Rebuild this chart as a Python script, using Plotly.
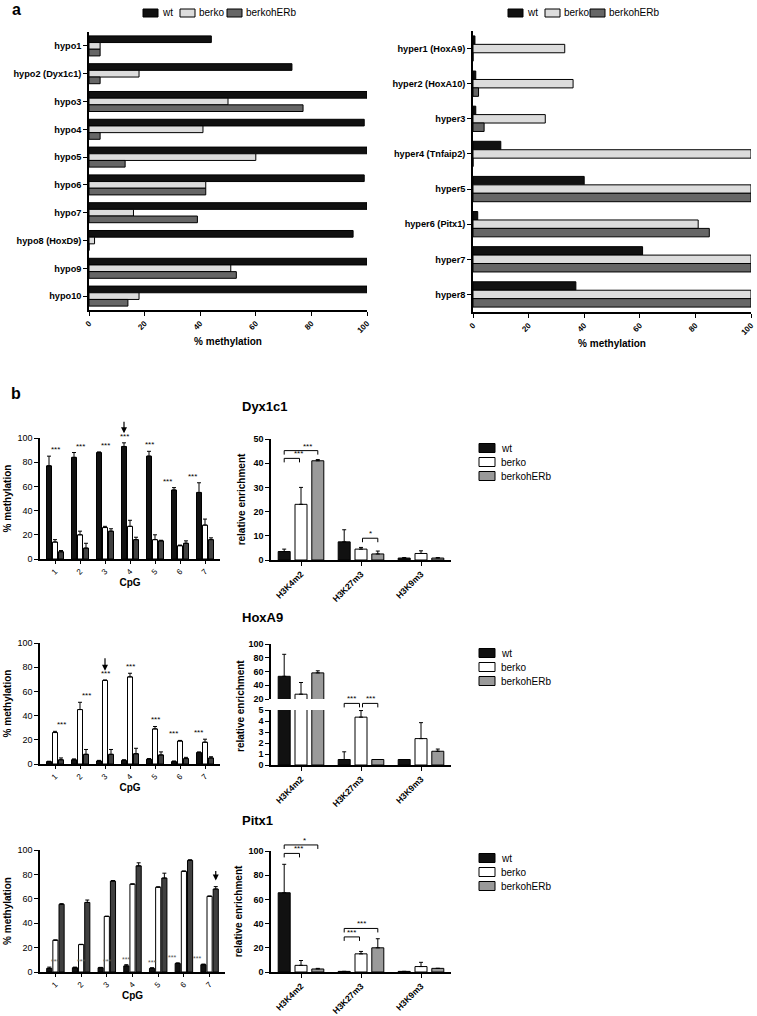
import plotly.graph_objects as go

W, H = 757, 1016
FONT = "Liberation Sans, Arial, sans-serif"

groups = ["wt", "berko", "berkohERb"]

# ---- panel a: bisulfite methylation of hypo / hyper regions
hypo_labels = ["hypo1", "hypo2 (Dyx1c1)", "hypo3", "hypo4", "hypo5", "hypo6",
               "hypo7", "hypo8 (HoxD9)", "hypo9", "hypo10"]
hypo_wt = [44, 73, 100, 99, 100, 99, 100, 95, 100, 100]
hypo_berko = [4, 18, 50, 41, 60, 42, 16, 2, 51, 18]
hypo_berkohERb = [4, 4, 77, 4, 13, 42, 39, 0, 53, 14]

hyper_labels = ["hyper1 (HoxA9)", "hyper2 (HoxA10)", "hyper3", "hyper4 (Tnfaip2)",
                "hyper5", "hyper6 (Pitx1)", "hyper7", "hyper8"]
hyper_wt = [0.7, 1, 1, 10, 40, 1.7, 61, 37]
hyper_berko = [33, 36, 26, 100, 100, 81, 100, 100]
hyper_berkohERb = [0, 2, 4, 0, 100, 85, 100, 100]

# ---- panel b: CpG methylation (mean, sd)
cpg = ["1", "2", "3", "4", "5", "6", "7"]
dyx_wt = [77, 84, 88, 93, 85, 57, 55]
dyx_wt_sd = [8, 4, 0.5, 3, 4, 2, 8]
dyx_berko = [14, 20, 26, 27, 16, 11, 28]
dyx_berko_sd = [2, 3, 1, 5, 4, 0.5, 5]
dyx_berkohERb = [6, 9, 23, 16, 15, 13, 16]
dyx_berkohERb_sd = [1, 4, 2, 2, 0.5, 2, 1.5]

hox_wt = [2, 3.5, 2.5, 3, 4, 2, 9.5]
hox_wt_sd = [0.3, 0.7, 0.5, 0.5, 0.5, 0.5, 0.5]
hox_berko = [26, 45, 69, 72, 29, 19, 18]
hox_berko_sd = [1, 6, 0.5, 3, 2, 0.5, 2.5]
hox_berkohERb = [3.5, 8, 8, 8.5, 7.5, 4.5, 5]
hox_berkohERb_sd = [1.5, 4, 4, 4.5, 2.5, 1, 1]

pitx_wt = [3, 3.5, 3.5, 5, 3, 7, 6]
pitx_wt_sd = [1, 0.5, 0.3, 1, 0.5, 0.5, 0.5]
pitx_berko = [26, 22.5, 45.5, 72, 69.5, 82.5, 62]
pitx_berko_sd = [0.3, 0.2, 0.3, 0.2, 0.3, 0.3, 0.3]
pitx_berkohERb = [55.5, 57, 74.5, 87, 77, 91.5, 68]
pitx_berkohERb_sd = [0.5, 2, 0.5, 2.5, 4, 0.5, 2]

# ---- panel b: ChIP relative enrichment (mean, sd)
marks = ["H3K4m2", "H3K27m3", "H3K9m3"]
dyx_enr_wt = [3.5, 7.5, 0.8]
dyx_enr_wt_sd = [1, 5, 0.2]
dyx_enr_berko = [23, 4.5, 2.7]
dyx_enr_berko_sd = [7, 0.7, 1.1]
dyx_enr_berkohERb = [41, 2.5, 0.8]
dyx_enr_berkohERb_sd = [0.5, 1.2, 0.2]

hox_enr_wt = [53, 0.5, 0.5]
hox_enr_wt_sd = [32, 0.7, 0]
hox_enr_berko = [27, 4.35, 2.4]
hox_enr_berko_sd = [17, 0.6, 1.45]
hox_enr_berkohERb = [58, 0.5, 1.25]
hox_enr_berkohERb_sd = [3, 0, 0.2]

pitx_enr_wt = [65.5, 0.5, 0.5]
pitx_enr_wt_sd = [23.5, 0, 0]
pitx_enr_berko = [5.5, 15, 4.5]
pitx_enr_berko_sd = [4, 2, 3.5]
pitx_enr_berkohERb = [2.5, 20, 3]
pitx_enr_berkohERb_sd = [0.5, 7.5, 0]

# significance brackets: (category, group1, group2, height, label)
dyx_sig = [(0, 0, 1, 42, "***"), (0, 0, 2, 45.2, "***"), (1, 1, 2, 9, "*")]
hox_sig = [(1, 0, 1, 5.6, "***"), (1, 1, 2, 5.6, "***")]
pitx_sig = [(0, 0, 1, 98, "***"), (0, 0, 2, 105, "*"), (1, 0, 1, 29, "***"), (1, 0, 2, 36, "***")]

col_a = ["#111111", "#dcdcdc", "#666666"]
col_cpg = ["#111111", "#ffffff", "#404040"]
col_chip = ["#111111", "#ffffff", "#9a9a9a"]


def xdom(a, b):
    return [a / W, b / W]


def ydom(top, bottom):
    return [1 - bottom / H, 1 - top / H]


def ax_id(n, letter):
    return letter if n == 1 else f"{letter}{n}"


def frac(v, r):
    return (v - r[0]) / (r[1] - r[0])


fig = go.Figure()
shapes = []
annotations = []

base_axis = dict(showline=True, linecolor="black", linewidth=1.5, ticks="outside",
                 ticklen=4, tickwidth=1.3, tickcolor="black", showgrid=False,
                 zeroline=False, automargin=False,
                 tickfont=dict(family=FONT, size=9, color="black"))
bold9 = dict(family=FONT, size=9, color="black", weight="bold")
bold10 = dict(family=FONT, size=10, color="black", weight="bold")
axes = {}

# ---------------- panel a ----------------
a_sets = [
    (1, hypo_labels, [hypo_wt, hypo_berko, hypo_berkohERb], xdom(89, 367), ydom(32, 310)),
    (2, hyper_labels, [hyper_wt, hyper_berko, hyper_berkohERb], xdom(473, 751), ydom(31, 312)),
]
for n, labels, series, xd, yd in a_sets:
    for g, vals in enumerate(series):
        fig.add_trace(go.Bar(
            y=labels, x=vals, orientation="h", name=groups[g],
            offset=-0.36 + g * 0.24, width=0.24,
            marker=dict(color=col_a[g], line=dict(color="black", width=1)),
            xaxis=ax_id(n, "x"), yaxis=ax_id(n, "y"), showlegend=False))
    axes[ax_id(n, "xaxis")] = dict(base_axis, domain=xd, anchor=ax_id(n, "y"), range=[0, 100],
                                   tickvals=[0, 20, 40, 60, 80, 100], tickangle=-45,
                                   tickfont=dict(bold9, size=8),
                                   title=dict(text="% methylation", font=bold10, standoff=4))
    axes[ax_id(n, "yaxis")] = dict(base_axis, domain=yd, anchor=ax_id(n, "x"),
                                   range=[len(labels) - 0.5, -0.5], type="category",
                                   categoryorder="array", categoryarray=labels,
                                   tickfont=dict(bold9, size=9.2))

# panel a legends
for starts in ([143, 180, 227], [508, 545, 590]):
    for g, x0 in enumerate(starts):
        shapes.append(dict(type="rect", xref="paper", yref="paper",
                           x0=x0 / W, x1=(x0 + 15) / W, y0=1 - 17 / H, y1=1 - 9 / H,
                           fillcolor=col_a[g], line=dict(color="black", width=1)))
        annotations.append(dict(xref="paper", yref="paper", x=(x0 + 17) / W, y=1 - 13 / H,
                                text=groups[g], showarrow=False, xanchor="left", yanchor="middle",
                                font=dict(family=FONT, size=10, color="black")))

# ---------------- panel b ----------------
CPG_PITCH, CPG_W = 0.24, 0.2
CHIP_PITCH, CHIP_W = 0.28, 0.2


def add_bars(xa, ya, cats, series, sds, colors, pitch, width):
    for g in range(3):
        fig.add_trace(go.Bar(
            x=cats, y=series[g], name=groups[g],
            offset=(g - 1) * pitch - width / 2, width=width,
            marker=dict(color=colors[g], line=dict(color="black", width=1)),
            error_y=dict(type="data", symmetric=False, array=sds[g], arrayminus=[0] * len(cats),
                         color="black", thickness=1, width=2),
            xaxis=xa, yaxis=ya, showlegend=False))


def add_bracket(n, xr, yr, hpx, pitch, cat, g1, g2, yv, label):
    xref, yref = ax_id(n, "x") + " domain", ax_id(n, "y") + " domain"
    x1 = frac(cat + (g1 - 1) * pitch, xr)
    x2 = frac(cat + (g2 - 1) * pitch, xr)
    if g1 == 1:
        x1 += 1.5 / 180
    if g2 == 1:
        x2 -= 1.5 / 180
    y = frac(yv, yr)
    yl = y - 4 / hpx
    ln = dict(color="black", width=1)
    for a, b, c, d in ((x1, y, x2, y), (x1, y, x1, yl), (x2, y, x2, yl)):
        shapes.append(dict(type="line", xref=xref, yref=yref, x0=a, y0=b, x1=c, y1=d, line=ln))
    annotations.append(dict(xref=xref, yref=yref, x=(x1 + x2) / 2, y=y, text=label,
                            showarrow=False, yanchor="bottom", yshift=-2,
                            font=dict(family=FONT, size=8, color="black")))


def add_stars(n, xr, yr, g, tops, color="black", size=8):
    xref, yref = ax_id(n, "x") + " domain", ax_id(n, "y") + " domain"
    for i, t in enumerate(tops):
        annotations.append(dict(xref=xref, yref=yref, x=frac(i + (g - 1) * CPG_PITCH, xr),
                                y=frac(t, yr), text="***", showarrow=False, yanchor="bottom",
                                yshift=0, font=dict(family=FONT, size=size, color=color)))


def add_arrow(n, xr, yr, cat, g, yv, length):
    annotations.append(dict(xref=ax_id(n, "x") + " domain", yref=ax_id(n, "y") + " domain",
                            x=frac(cat + (g - 1) * CPG_PITCH, xr), y=frac(yv, yr),
                            showarrow=True, arrowhead=2, arrowsize=1, arrowwidth=1.2,
                            arrowcolor="black", ax=0, ay=-length, text=""))


CPG_R = [-0.6, 6.6]
CHIP_R = [-0.5, 2.5]


def cpg_axes(n, xd, yd):
    axes[ax_id(n, "xaxis")] = dict(base_axis, domain=xd, anchor=ax_id(n, "y"), range=CPG_R,
                                   type="category", tickangle=-45, ticklen=3,
                                   tickfont=dict(family=FONT, size=8, color="black"),
                                   title=dict(text="CpG", font=bold10, standoff=2))
    axes[ax_id(n, "yaxis")] = dict(base_axis, domain=yd, anchor=ax_id(n, "x"), range=[0, 100],
                                   tickvals=[0, 20, 40, 60, 80, 100],
                                   title=dict(text="% methylation", font=bold10, standoff=4))


def chip_xaxis(n, xd, anchor_n):
    axes[ax_id(n, "xaxis")] = dict(base_axis, domain=xd, anchor=ax_id(anchor_n, "y"), range=CHIP_R,
                                   type="category", tickangle=-45, tickfont=dict(bold9, size=8.6))


rows = [
    dict(nc=3, top=438, bot=559, right=220,
         cpg=([dyx_wt, dyx_berko, dyx_berkohERb], [dyx_wt_sd, dyx_berko_sd, dyx_berkohERb_sd]),
         chip=([dyx_enr_wt, dyx_enr_berko, dyx_enr_berkohERb],
               [dyx_enr_wt_sd, dyx_enr_berko_sd, dyx_enr_berkohERb_sd]),
         title="Dyx1c1", ttl_y=407, leg_y=448),
    dict(nc=5, top=643, bot=764, right=220,
         cpg=([hox_wt, hox_berko, hox_berkohERb], [hox_wt_sd, hox_berko_sd, hox_berkohERb_sd]),
         chip=([hox_enr_wt, hox_enr_berko, hox_enr_berkohERb],
               [hox_enr_wt_sd, hox_enr_berko_sd, hox_enr_berkohERb_sd]),
         title="HoxA9", ttl_y=617, leg_y=653),
    dict(nc=8, top=850, bot=972, right=225,
         cpg=([pitx_wt, pitx_berko, pitx_berkohERb], [pitx_wt_sd, pitx_berko_sd, pitx_berkohERb_sd]),
         chip=([pitx_enr_wt, pitx_enr_berko, pitx_enr_berkohERb],
               [pitx_enr_wt_sd, pitx_enr_berko_sd, pitx_enr_berkohERb_sd]),
         title="Pitx1", ttl_y=820, leg_y=858),
]

for r in rows:
    nc = r["nc"]
    cpg_axes(nc, xdom(40, r["right"]), ydom(r["top"], r["bot"]))
    add_bars(ax_id(nc, "x"), ax_id(nc, "y"), cpg, r["cpg"][0], r["cpg"][1], col_cpg, CPG_PITCH, CPG_W)
    annotations.append(dict(xref="paper", yref="paper", x=240 / W, y=1 - r["ttl_y"] / H,
                            text=r["title"], showarrow=False, xanchor="left", yanchor="middle",
                            font=dict(family=FONT, size=13, color="black", weight="bold")))
    for g in range(3):
        y0 = r["leg_y"] + g * 14
        shapes.append(dict(type="rect", xref="paper", yref="paper",
                           x0=479 / W, x1=495 / W, y0=1 - (y0 + 4.5) / H, y1=1 - (y0 - 4.5) / H,
                           fillcolor=col_chip[g], line=dict(color="black", width=1)))
        annotations.append(dict(xref="paper", yref="paper", x=499 / W, y=1 - y0 / H,
                                text=groups[g], showarrow=False, xanchor="left", yanchor="middle",
                                font=dict(family=FONT, size=10, color="black")))

# Dyx1c1 chip
chip_xaxis(4, xdom(271, 451), 4)
axes["yaxis4"] = dict(base_axis, domain=ydom(439, 560), anchor="x4", range=[0, 50],
                      tickvals=[0, 10, 20, 30, 40, 50], tickfont=bold9,
                      title=dict(text="relative enrichment", font=bold10, standoff=6))
add_bars("x4", "y4", marks, rows[0]["chip"][0], rows[0]["chip"][1], col_chip, CHIP_PITCH, CHIP_W)
for s in dyx_sig:
    add_bracket(4, CHIP_R, [0, 50], 121, CHIP_PITCH, *s)

# HoxA9 chip with broken axis
chip_xaxis(6, xdom(271, 451), 6)
axes["yaxis6"] = dict(base_axis, domain=ydom(710, 765), anchor="x6", range=[0, 5],
                      tickvals=[0, 1, 2, 3, 4, 5], tickfont=bold9)
axes["yaxis7"] = dict(base_axis, domain=ydom(644, 699), anchor="x6", range=[20, 100],
                      tickvals=[20, 40, 60, 80, 100], tickfont=bold9)
add_bars("x6", "y6", marks, rows[1]["chip"][0], rows[1]["chip"][1], col_chip, CHIP_PITCH, CHIP_W)
add_bars("x6", "y7", marks, rows[1]["chip"][0], rows[1]["chip"][1], col_chip, CHIP_PITCH, CHIP_W)
for s in hox_sig:
    add_bracket(6, CHIP_R, [0, 5], 55, CHIP_PITCH, *s)
annotations.append(dict(xref="paper", yref="paper", x=240 / W, y=1 - 706 / H,
                        text="relative enrichment", textangle=-90, showarrow=False,
                        xanchor="center", yanchor="middle", font=bold10))

# Pitx1 chip
chip_xaxis(9, xdom(271, 451), 9)
axes["yaxis9"] = dict(base_axis, domain=ydom(851, 972), anchor="x9", range=[0, 100],
                      tickvals=[0, 20, 40, 60, 80, 100], tickfont=bold9,
                      title=dict(text="relative enrichment", font=bold10, standoff=4))
add_bars("x9", "y9", marks, rows[2]["chip"][0], rows[2]["chip"][1], col_chip, CHIP_PITCH, CHIP_W)
for s in pitx_sig:
    add_bracket(9, CHIP_R, [0, 100], 121, CHIP_PITCH, *s)

# stars and arrows on the CpG plots
add_stars(3, CPG_R, [0, 100], 0, [v + e for v, e in zip(dyx_wt, dyx_wt_sd)])
add_stars(5, CPG_R, [0, 100], 1, [v + e for v, e in zip(hox_berko, hox_berko_sd)])
add_stars(8, CPG_R, [0, 100], 0, [v + e for v, e in zip(pitx_wt, pitx_wt_sd)], color="#555555", size=7)
add_arrow(3, CPG_R, [0, 100], 3, 0, 104, 13)
add_arrow(5, CPG_R, [0, 100], 2, 1, 77, 14)
add_arrow(8, CPG_R, [0, 100], 6, 2, 75, 11)

# panel letters
annotations.append(dict(xref="paper", yref="paper", x=10 / W, y=1 - 10 / H, text="a",
                        showarrow=False, xanchor="left", yanchor="middle",
                        font=dict(family=FONT, size=16, color="black", weight="bold")))
annotations.append(dict(xref="paper", yref="paper", x=9 / W, y=1 - 393 / H, text="b",
                        showarrow=False, xanchor="left", yanchor="middle",
                        font=dict(family=FONT, size=16, color="black", weight="bold")))

fig.update_layout(
    template="none",
    width=W, height=H, margin=dict(l=0, r=0, t=0, b=0),
    paper_bgcolor="white", plot_bgcolor="white",
    barmode="overlay", showlegend=False,
    font=dict(family=FONT, color="black"),
    shapes=shapes, annotations=annotations,
    **axes,
)

# the page body has a default 8px margin; drop it so the figure fills the window
fig.write_html("out.html", config={"displayModeBar": False},
               post_script="document.body.style.margin='0';document.body.style.overflow='hidden';")
